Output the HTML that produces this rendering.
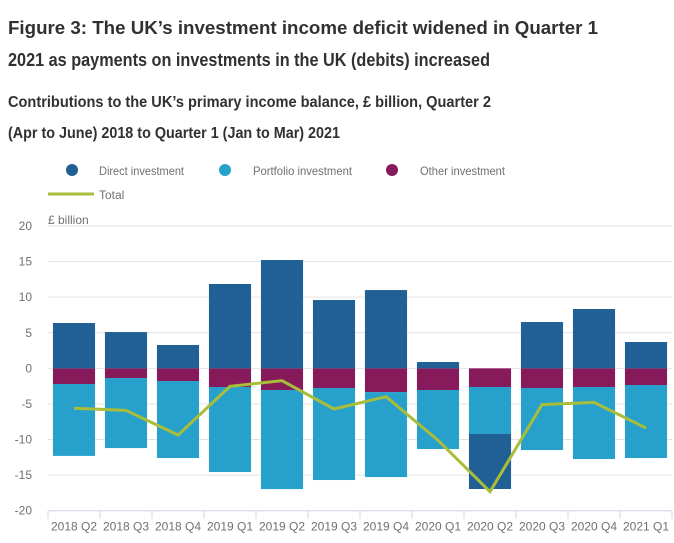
<!DOCTYPE html>
<html><head><meta charset="utf-8"><style>
body{margin:0;background:#fff;}
svg{display:block;font-family:"Liberation Sans",sans-serif;}
</style></head><body>
<svg id="chart" width="674" height="543" xmlns="http://www.w3.org/2000/svg">
<text x="8" y="34" font-size="18" font-weight="bold" fill="#323132" textLength="590" lengthAdjust="spacingAndGlyphs">Figure 3: The UK’s investment income deficit widened in Quarter 1</text>
<text x="8" y="66" font-size="18" font-weight="bold" fill="#323132" textLength="482" lengthAdjust="spacingAndGlyphs">2021 as payments on investments in the UK (debits) increased</text>
<text x="8" y="107" font-size="16" font-weight="bold" fill="#323132" textLength="483" lengthAdjust="spacingAndGlyphs">Contributions to the UK’s primary income balance, £ billion, Quarter 2</text>
<text x="8" y="138" font-size="16" font-weight="bold" fill="#323132" textLength="332" lengthAdjust="spacingAndGlyphs">(Apr to June) 2018 to Quarter 1 (Jan to Mar) 2021</text>
<g font-size="12" fill="#707070">
<circle cx="72" cy="170" r="6" fill="#206095"/>
<text x="99" y="175" textLength="85" lengthAdjust="spacingAndGlyphs">Direct investment</text>
<circle cx="225" cy="170" r="6" fill="#27a0cc"/>
<text x="253" y="175" textLength="99" lengthAdjust="spacingAndGlyphs">Portfolio investment</text>
<circle cx="392" cy="170" r="6" fill="#871a5b"/>
<text x="420" y="175" textLength="85" lengthAdjust="spacingAndGlyphs">Other investment</text>
<line x1="48" y1="194" x2="94" y2="194" stroke="#a8bd3a" stroke-width="3"/>
<text x="99" y="199">Total</text>
</g>
<text x="48" y="224" font-size="12" fill="#707070">£ billion</text>
<g id="grid"></g><g id="bars"></g><g id="line"></g><g id="xaxis"></g>
</svg>
<script>
const categories=["2018 Q2","2018 Q3","2018 Q4","2019 Q1","2019 Q2","2019 Q3","2019 Q4","2020 Q1","2020 Q2","2020 Q3","2020 Q4","2021 Q1"];
const direct=[6.37,5.1,3.28,11.85,15.22,9.6,11.0,0.89,-7.73,6.51,8.34,3.7];
const portfolio=[-10.1,-9.84,-10.82,-11.95,-13.92,-12.93,-11.94,-8.29,-6.6,-8.72,-10.12,-10.26];
const other=[-2.2,-1.36,-1.78,-2.62,-3.04,-2.76,-3.33,-3.04,-2.62,-2.76,-2.62,-2.34];
const total=[-5.6,-5.9,-9.37,-2.53,-1.73,-5.71,-3.98,-10.1,-17.33,-5.1,-4.78,-8.38];
const yTicks=[20,15,10,5,0,-5,-10,-15,-20];
const NS="http://www.w3.org/2000/svg";
const x0=48,x1=672,yTop=226,yBot=510.7,yMax=20,yMin=-20;
const band=(x1-x0)/categories.length;
function y(v){return yTop+(yMax-v)/(yMax-yMin)*(yBot-yTop);}
function xc(i){return x0+band*(i+0.5);}
function mk(tag,attrs,parent){const e=document.createElementNS(NS,tag);for(const k in attrs)e.setAttribute(k,attrs[k]);parent.appendChild(e);return e;}
const grid=document.getElementById('grid');
yTicks.forEach(t=>{
  if(t!==-20){const l=mk('line',{x1:x0,x2:x1,y1:y(t),y2:y(t),stroke:'#e2e2e2','stroke-width':1},grid);
  
  }
  const tx=mk('text',{x:32,y:y(t)+4,'text-anchor':'end','font-size':12,fill:'#707070'},grid);
  tx.textContent=t;
  
  
});
const bars=document.getElementById('bars');
const bw=band*0.81;
const series=[[other,'#871a5b','other'],[portfolio,'#27a0cc','portfolio'],[direct,'#206095','direct']];
categories.forEach((c,i)=>{
  let pos=0,neg=0;
  series.forEach(([arr,col,nm])=>{
    const v=arr[i];let a,b;
    if(v>=0){a=pos;b=pos+v;pos=b;}else{a=neg;b=neg+v;neg=b;}
    const r=mk('rect',{x:xc(i)-bw/2,width:bw,y:Math.min(y(a),y(b)),height:Math.abs(y(a)-y(b)),fill:col},bars);
    
    
  });
});
const lg=document.getElementById('line');
const p=mk('polyline',{points:total.map((v,i)=>xc(i)+','+y(v)).join(' '),fill:'none',stroke:'#a8bd3a','stroke-width':3,'stroke-linejoin':'miter'},lg);


const xa=document.getElementById('xaxis');
const al=mk('line',{x1:x0,x2:x1,y1:yBot,y2:yBot,stroke:'#ccd6e6','stroke-width':1},xa);


for(let i=0;i<=categories.length;i++){
  const t=mk('line',{x1:x0+band*i,x2:x0+band*i,y1:yBot,y2:yBot+8,stroke:'#ccd6e6'},xa);
  
  
}
categories.forEach((c,i)=>{
  const t=mk('text',{x:xc(i),y:yBot+20,'text-anchor':'middle','font-size':12,fill:'#707070'},xa);
  t.textContent=c;
  
  
});
</script>
</body></html>
